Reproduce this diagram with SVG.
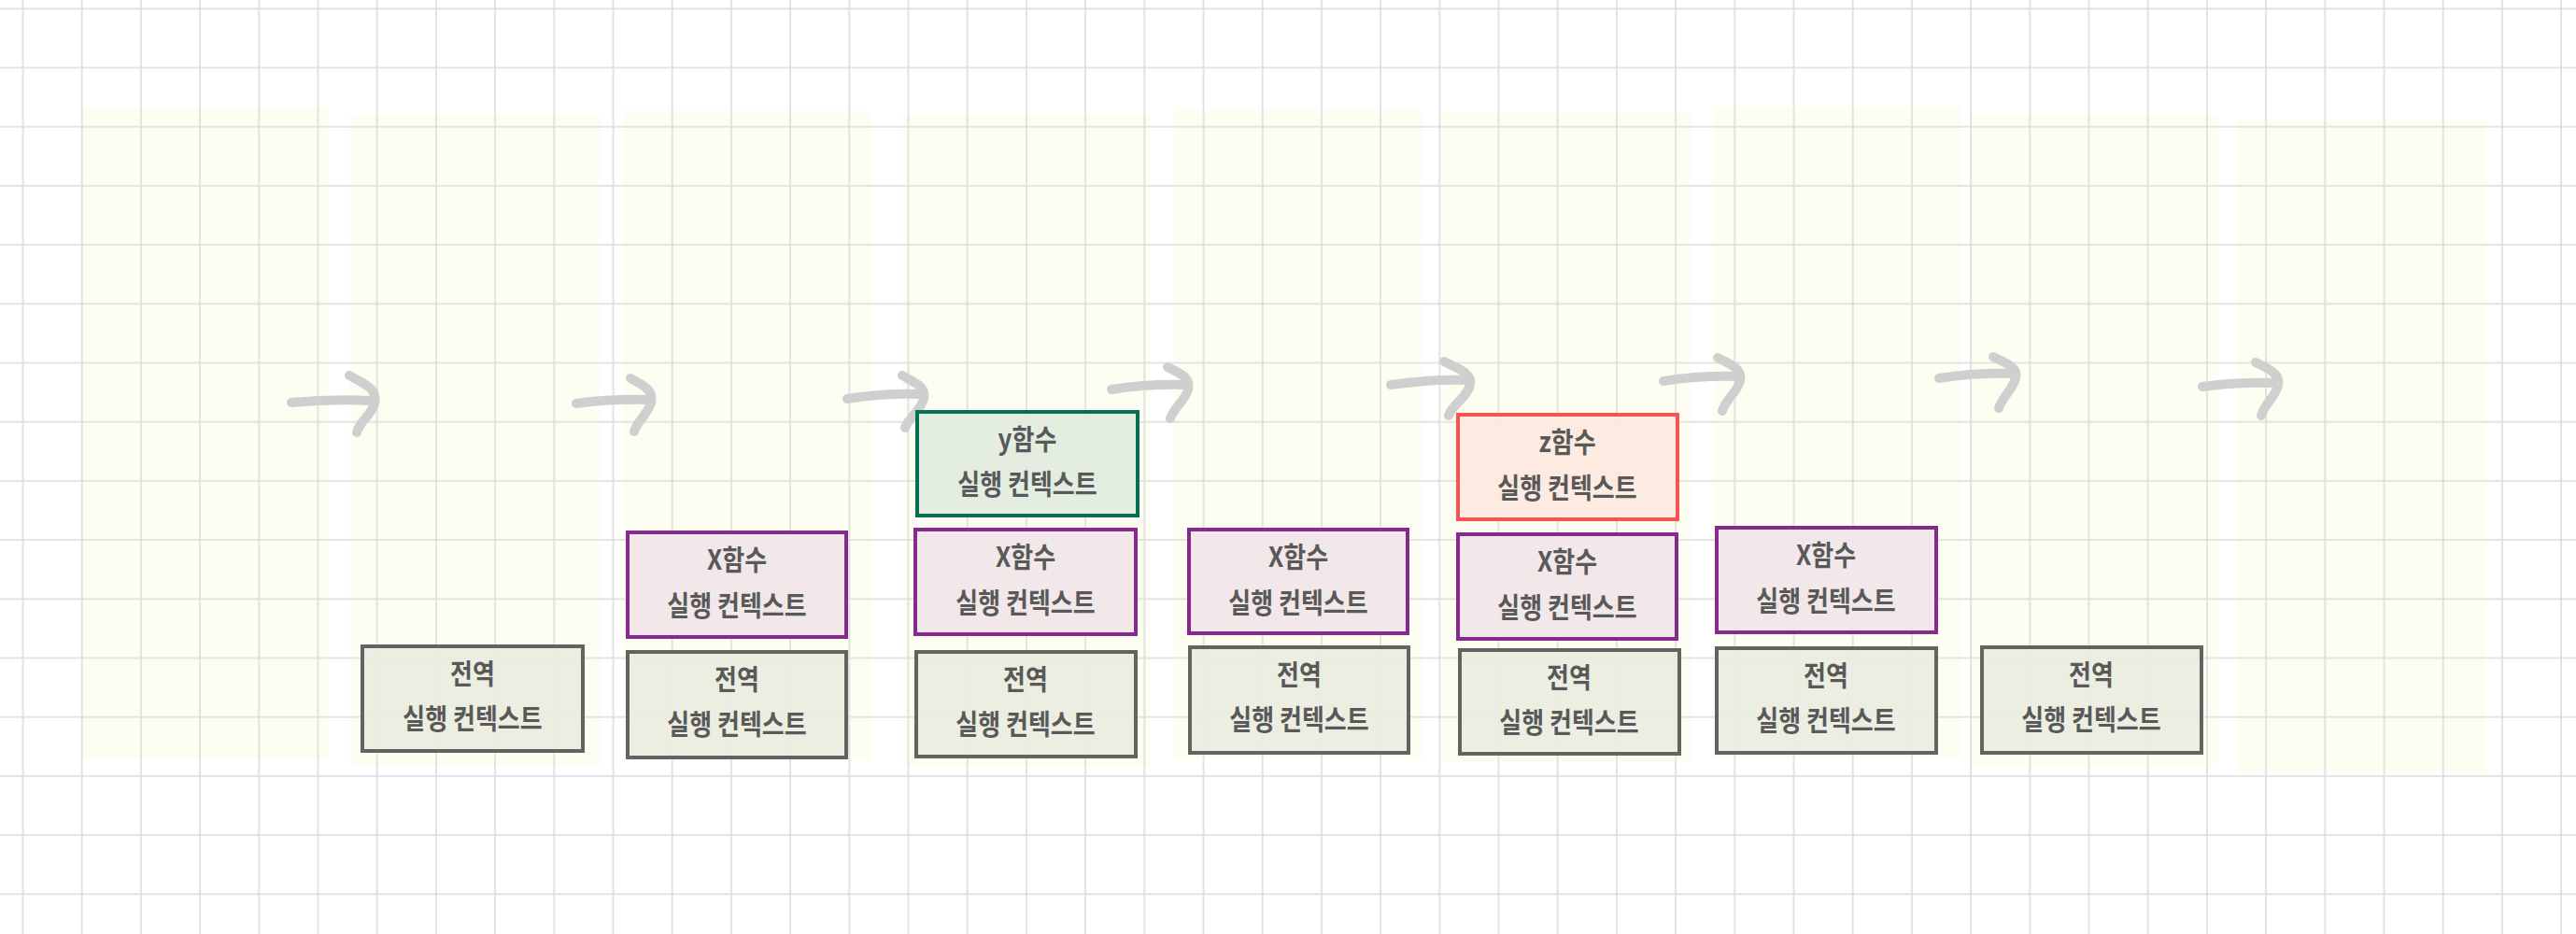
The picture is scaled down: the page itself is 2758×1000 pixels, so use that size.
<svg xmlns="http://www.w3.org/2000/svg" width="2758" height="1000" viewBox="0 0 2758 1000">
<style>
.panel{fill:#fdfdf2;stroke:none}
.arr{fill:none;stroke:#cfcfcf;stroke-width:10;stroke-linecap:round;stroke-linejoin:round}
.box{stroke-width:4}
.g{fill:#ebede1;stroke:#636363;fill-opacity:0.92}
.x{fill:#f1e6e9;stroke:#862a90;fill-opacity:0.92}
.y{fill:#e1ede0;stroke:#087052;fill-opacity:0.92}
.z{fill:#fde9df;stroke:#fa5252;fill-opacity:0.92}
text{font-family:"Noto Sans CJK KR","Noto Sans",sans-serif;font-size:26px;font-weight:700;fill:#595959;text-anchor:middle}
</style>
<defs>
<pattern id="grid" patternUnits="userSpaceOnUse" x="-7.1" y="-22.3" width="63.2" height="63.2">
<path d="M31.6,0 V63.2 M0,31.6 H63.2" stroke="#dcdcdc" stroke-width="1.6" fill="none"/>
</pattern>
</defs>
<rect x="0" y="0" width="2758" height="1000" fill="#ffffff"/>
<g id="panels">
<rect class="panel" x="87" y="115" width="264" height="697"/>
<rect class="panel" x="375" y="123" width="267" height="696"/>
<rect class="panel" x="667" y="119" width="265" height="695"/>
<rect class="panel" x="967" y="123" width="264" height="697"/>
<rect class="panel" x="1257" y="118" width="265" height="695"/>
<rect class="panel" x="1544" y="120" width="266" height="695"/>
<rect class="panel" x="1834" y="114" width="265" height="699"/>
<rect class="panel" x="2111" y="124" width="264" height="698"/>
<rect class="panel" x="2396" y="129" width="266" height="698"/>
</g>
<rect id="gridlines" x="0" y="0" width="2758" height="1000" fill="url(#grid)"/>
<g id="connectors">
<path class="arr" d="M312,431 Q355,427 397,429"/>
<path class="arr" d="M374,402 C390,411 405,416 401,432 C398,444 385,451 382,463"/>
<path class="arr" d="M617,432 Q655,427 693,428"/>
<path class="arr" d="M675,405 C689,413 700,417 697,431 C694,443 682,451 679,462"/>
<path class="arr" d="M907,427 Q946,421 985,422"/>
<path class="arr" d="M966,402 C980,410 992,414 989,427 C986,439 973,447 969,458"/>
<path class="arr" d="M1190,417 Q1229,411 1268,412"/>
<path class="arr" d="M1250,393 C1264,400 1275,404 1272,417 C1269,429 1256,437 1253,448"/>
<path class="arr" d="M1489,412 Q1529,406 1570,407"/>
<path class="arr" d="M1546,387 C1560,394 1577,400 1574,412 C1571,425 1555,433 1551,445"/>
<path class="arr" d="M1781,408 Q1820,402 1859,403"/>
<path class="arr" d="M1839,383 C1853,390 1866,395 1863,408 C1860,420 1847,428 1844,440"/>
<path class="arr" d="M2076,405 Q2115,399 2154,400"/>
<path class="arr" d="M2134,382 C2148,389 2161,393 2158,405 C2155,417 2143,426 2140,437"/>
<path class="arr" d="M2358,414 Q2397,409 2436,410"/>
<path class="arr" d="M2415,388 C2429,395 2442,400 2439,413 C2436,425 2424,433 2421,445"/>
</g>
<g id="node-global-1">
<rect class="box g" x="388" y="692" width="236" height="112"/>
<text x="506" y="9.6" transform="translate(0,721) scale(1,1.15)">전역</text>
<text x="506" y="9.6" transform="translate(0,769) scale(1,1.15)">실행 컨텍스트</text>
</g>
<g id="node-x-2">
<rect class="box x" x="672" y="570" width="234" height="112"/>
<text x="789" y="9.6" transform="translate(0,599) scale(1,1.15)">X함수</text>
<text x="789" y="9.6" transform="translate(0,648) scale(1,1.15)">실행 컨텍스트</text>
</g>
<g id="node-global-2">
<rect class="box g" x="672" y="698" width="234" height="113"/>
<text x="789" y="9.6" transform="translate(0,727) scale(1,1.15)">전역</text>
<text x="789" y="9.6" transform="translate(0,775) scale(1,1.15)">실행 컨텍스트</text>
</g>
<g id="node-y-3">
<rect class="box y" x="982" y="441" width="236" height="111"/>
<text x="1100" y="9.6" transform="translate(0,470) scale(1,1.15)">y함수</text>
<text x="1100" y="9.6" transform="translate(0,518) scale(1,1.15)">실행 컨텍스트</text>
</g>
<g id="node-x-3">
<rect class="box x" x="980" y="567" width="236" height="112"/>
<text x="1098" y="9.6" transform="translate(0,596) scale(1,1.15)">X함수</text>
<text x="1098" y="9.6" transform="translate(0,645) scale(1,1.15)">실행 컨텍스트</text>
</g>
<g id="node-global-3">
<rect class="box g" x="981" y="698" width="235" height="112"/>
<text x="1098" y="9.6" transform="translate(0,727) scale(1,1.15)">전역</text>
<text x="1098" y="9.6" transform="translate(0,775) scale(1,1.15)">실행 컨텍스트</text>
</g>
<g id="node-x-4">
<rect class="box x" x="1273" y="567" width="234" height="111"/>
<text x="1390" y="9.6" transform="translate(0,596) scale(1,1.15)">X함수</text>
<text x="1390" y="9.6" transform="translate(0,645) scale(1,1.15)">실행 컨텍스트</text>
</g>
<g id="node-global-4">
<rect class="box g" x="1274" y="693" width="234" height="113"/>
<text x="1391" y="9.6" transform="translate(0,722) scale(1,1.15)">전역</text>
<text x="1391" y="9.6" transform="translate(0,770) scale(1,1.15)">실행 컨텍스트</text>
</g>
<g id="node-z-5">
<rect class="box z" x="1561" y="444" width="235" height="112"/>
<text x="1678" y="9.6" transform="translate(0,473) scale(1,1.15)">z함수</text>
<text x="1678" y="9.6" transform="translate(0,522) scale(1,1.15)">실행 컨텍스트</text>
</g>
<g id="node-x-5">
<rect class="box x" x="1561" y="572" width="234" height="112"/>
<text x="1678" y="9.6" transform="translate(0,601) scale(1,1.15)">X함수</text>
<text x="1678" y="9.6" transform="translate(0,650) scale(1,1.15)">실행 컨텍스트</text>
</g>
<g id="node-global-5">
<rect class="box g" x="1563" y="696" width="235" height="111"/>
<text x="1680" y="9.6" transform="translate(0,725) scale(1,1.15)">전역</text>
<text x="1680" y="9.6" transform="translate(0,773) scale(1,1.15)">실행 컨텍스트</text>
</g>
<g id="node-x-6">
<rect class="box x" x="1838" y="565" width="235" height="112"/>
<text x="1955" y="9.6" transform="translate(0,594) scale(1,1.15)">X함수</text>
<text x="1955" y="9.6" transform="translate(0,643) scale(1,1.15)">실행 컨텍스트</text>
</g>
<g id="node-global-6">
<rect class="box g" x="1838" y="694" width="235" height="112"/>
<text x="1955" y="9.6" transform="translate(0,723) scale(1,1.15)">전역</text>
<text x="1955" y="9.6" transform="translate(0,771) scale(1,1.15)">실행 컨텍스트</text>
</g>
<g id="node-global-7">
<rect class="box g" x="2122" y="693" width="235" height="113"/>
<text x="2239" y="9.6" transform="translate(0,722) scale(1,1.15)">전역</text>
<text x="2239" y="9.6" transform="translate(0,770) scale(1,1.15)">실행 컨텍스트</text>
</g>
</svg>
